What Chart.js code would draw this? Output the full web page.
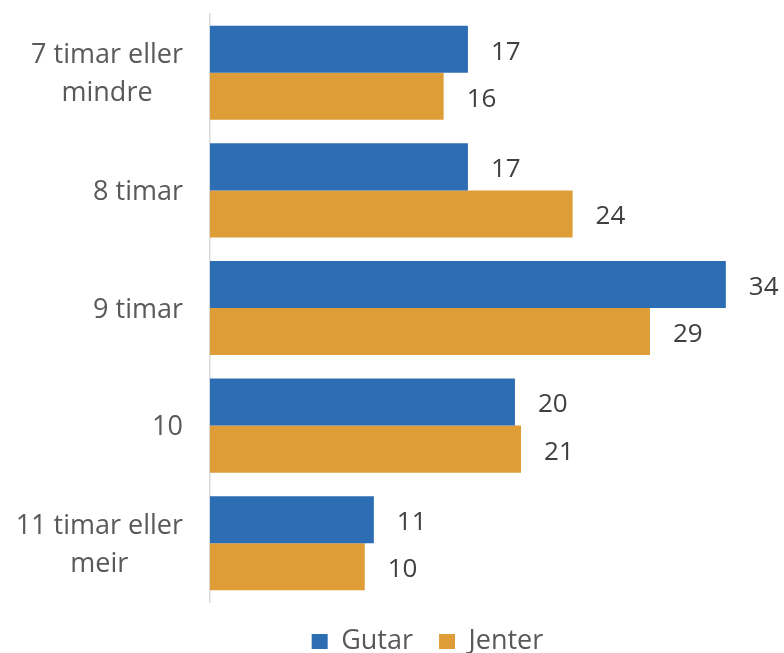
<!DOCTYPE html>
<html>
<head>
<meta charset="utf-8">
<script src="https://cdn.jsdelivr.net/npm/chart.js@4"></script>
<style>
  html, body { margin: 0; padding: 0; background: #fff; }
  #wrap { width: 784px; height: 653px; }
</style>
</head>
<body>
<div id="wrap"><canvas id="sleep-chart"></canvas></div>
<script>
var categories = [
  ["7 timar eller", "mindre"],
  "8 timar",
  "9 timar",
  "10",
  ["11 timar eller", "meir"]
];
// bar lengths as drawn, and the numbers printed beside them
var gutarValues = [17, 17, 34, 20.1, 10.8];
var jenterValues = [15.4, 23.9, 29, 20.5, 10.2];
var gutarLabels = [17, 17, 34, 20, 11];
var jenterLabels = [16, 24, 29, 21, 10];

var FONT = "'Open Sans', sans-serif";

document.addEventListener("DOMContentLoaded", function() {
  var ctx = document.getElementById("sleep-chart").getContext("2d");

  var valueLabels = {
    id: "valueLabels",
    afterDatasetsDraw: function(chart) {
      var c = chart.ctx;
      var printed = [gutarLabels, jenterLabels];
      c.save();
      c.font = "26px " + FONT;
      c.fillStyle = "#404040";
      c.textAlign = "left";
      c.textBaseline = "middle";
      chart.data.datasets.forEach(function(ds, i) {
        chart.getDatasetMeta(i).data.forEach(function(bar, j) {
          c.fillText(String(printed[i][j]), bar.x + 23, bar.y + 3);
        });
      });
      c.restore();
    }
  };

  // category labels: block right-aligned, lines of a block centred on each other
  var categoryLabels = {
    id: "categoryLabels",
    afterDraw: function(chart) {
      var scale = chart.scales.y;
      var c = chart.ctx;
      var right = scale.right - 27;
      var lineHeight = 38;
      c.save();
      c.font = "27px " + FONT;
      c.fillStyle = "#595959";
      c.textAlign = "center";
      c.textBaseline = "middle";
      scale.ticks.forEach(function(t, i) {
        var y = scale.getPixelForTick(i) + 2;
        var lines = [].concat(categories[i]);
        var widest = Math.max.apply(null, lines.map(function(l) { return c.measureText(l).width; }));
        lines.forEach(function(line, k) {
          c.fillText(line, right - widest / 2, y + (k - (lines.length - 1) / 2) * lineHeight);
        });
      });
      c.restore();
    }
  };

  // legend sits a bit right of the canvas centre in the original
  var legendShift = {
    id: "legendShift",
    afterLayout: function(chart) {
      chart.legend.left += 57;
      chart.legend.right += 57;
    }
  };

  new Chart(ctx, {
    type: "bar",
    data: {
      labels: categories,
      datasets: [
        { label: "Gutar", data: gutarValues, backgroundColor: "#2C6DB3" },
        { label: "Jenter", data: jenterValues, backgroundColor: "#DF9D38" }
      ]
    },
    options: {
      indexAxis: "y",
      responsive: true,
      maintainAspectRatio: false,
      animation: false,
      categoryPercentage: 0.8,
      barPercentage: 1.0,
      layout: { padding: { top: 14, bottom: -12, left: 0, right: 43 } },
      scales: {
        x: { display: false, min: 0, max: 35 },
        y: {
          grid: { display: false },
          border: { display: true, color: "#d9d9d9", width: 1.5 },
          ticks: { display: false },
          afterFit: function(scale) {
            scale.width = 210;
            scale.paddingTop = 0;
            scale.paddingBottom = 0;
          }
        }
      },
      plugins: {
        tooltip: { enabled: false },
        legend: {
          position: "bottom",
          labels: {
            color: "#595959",
            boxWidth: 16,
            boxHeight: 15,
            padding: 26,
            font: { family: FONT, size: 27 }
          }
        }
      }
    },
    plugins: [valueLabels, categoryLabels, legendShift]
  });
});
</script>
</body>
</html>
